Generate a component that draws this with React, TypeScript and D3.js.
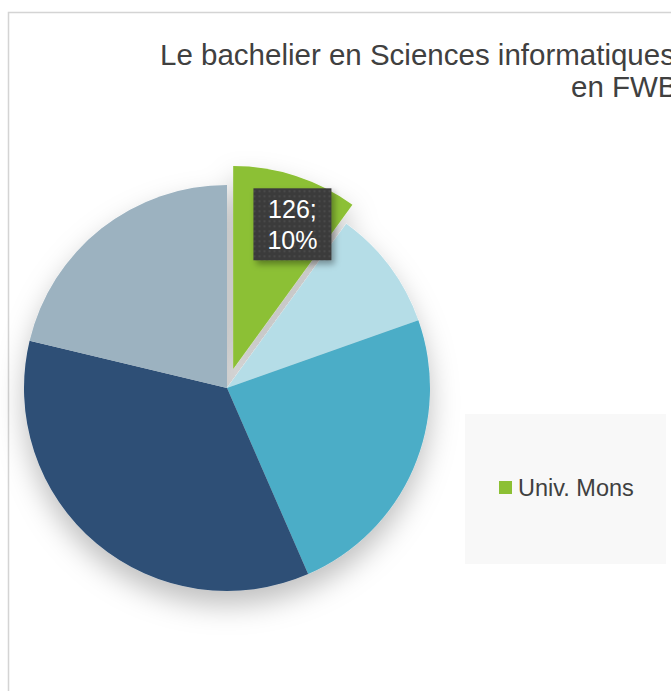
import { useMemo } from "react";
import * as d3 from "d3";

// chart values
const universities = ["Univ. Mons", "UNamur", "ULiège", "UCLouvain", "ULB"];
const students = [126, 121, 301, 445, 268];
const sliceColors = ["#8cc034", "#b5dde7", "#4badc7", "#2d4f76", "#9cb2c0"];
const legendItems = ["Univ. Mons"];
const labelledSlices = ["Univ. Mons"];
const titleLines = ["Le bachelier en Sciences informatiques", "en FWB"];

const width = 671;
const height = 691;
const cx = 227;
const cy = 388;
const radius = 203;
const explode = 20;
const font = "'Liberation Sans', Arial, Helvetica, sans-serif";

const pieArc = d3.arc<d3.PieArcDatum<number>>().innerRadius(0).outerRadius(radius);
const labelArc = d3
  .arc<d3.PieArcDatum<number>>()
  .innerRadius(radius * 0.77)
  .outerRadius(radius * 0.77);

export default function App() {
  const slices = useMemo(() => d3.pie<number>().sort(null).value((d) => d)(students), []);
  const total = d3.sum(students);
  const fmtPct = d3.format(".0%");

  const offset = (d: d3.PieArcDatum<number>, i: number) => {
    if (universities[i] !== "Univ. Mons") return [0, 0];
    const mid = (d.startAngle + d.endAngle) / 2;
    return [Math.sin(mid) * explode, -Math.cos(mid) * explode];
  };

  return (
    <svg
      width={width}
      height={height}
      style={{ position: "absolute", left: 0, top: 0, display: "block", background: "#fff" }}
    >
      <defs>
        <filter id="pieShadow" x="-30%" y="-30%" width="160%" height="170%">
          <feDropShadow dx="0" dy="14" stdDeviation="14" floodColor="#000" floodOpacity="0.25" />
        </filter>
        <filter id="boxShadow" x="-30%" y="-30%" width="170%" height="170%">
          <feDropShadow dx="3" dy="4" stdDeviation="3" floodColor="#000" floodOpacity="0.35" />
        </filter>
        <pattern id="dots" width="5" height="5" patternUnits="userSpaceOnUse">
          <rect width="5" height="5" fill="#3b3b3b" />
          <rect x="1" y="1" width="2" height="2" fill="#4a4a4a" />
        </pattern>
      </defs>

      {/* chart frame */}
      <rect x={8.5} y={12.5} width={width + 20} height={height + 20} fill="#fff" stroke="#d4d4d4" strokeWidth={1.5} />

      {/* title */}
      <text fontFamily={font} fontSize={29.5} fill="#404040">
        <tspan x={160} y={65}>{titleLines[0]}</tspan>
        <tspan x={571} y={97}>{titleLines[1]}</tspan>
      </text>

      {/* pie */}
      <g transform={`translate(${cx},${cy})`} filter="url(#pieShadow)">
        {slices.map((d, i) => {
          const [ox, oy] = offset(d, i);
          return (
            <path
              key={universities[i]}
              d={pieArc(d) ?? ""}
              fill={sliceColors[i]}
              transform={`translate(${ox},${oy})`}
            />
          );
        })}
      </g>

      {/* data labels */}
      <g transform={`translate(${cx},${cy})`}>
        {slices.map((d, i) => {
          if (!labelledSlices.includes(universities[i])) return null;
          const [ox, oy] = offset(d, i);
          const [lx, ly] = labelArc.centroid(d);
          const x = lx + ox + 11;
          const y = ly + oy + 4;
          return (
            <g key={universities[i]} transform={`translate(${x},${y})`}>
              <rect x={-39} y={-36} width={78} height={72} fill="url(#dots)" filter="url(#boxShadow)" />
              <text fontFamily={font} fontSize={25} fill="#fff" textAnchor="middle">
                <tspan x={0} y={-6}>{`${students[i]};`}</tspan>
                <tspan x={0} y={25}>{fmtPct(students[i] / total)}</tspan>
              </text>
            </g>
          );
        })}
      </g>

      {/* legend */}
      <g transform="translate(465,414)">
        <rect width={201} height={150} fill="#f8f8f8" />
        {legendItems.map((name) => {
          const i = universities.indexOf(name);
          return (
            <g key={name} transform="translate(34,67)">
              <rect width={13} height={13} fill={sliceColors[i]} />
              <text x={19} y={15} fontFamily={font} fontSize={23.5} fill="#404040">
                {name}
              </text>
            </g>
          );
        })}
      </g>
    </svg>
  );
}
